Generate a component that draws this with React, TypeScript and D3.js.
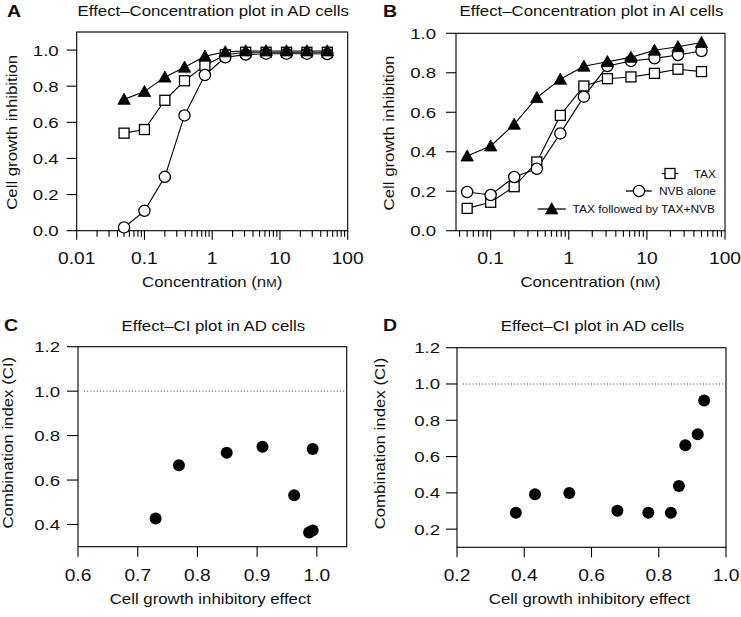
import React from "react";
import * as d3 from "d3";

const conc = [0.05, 0.1, 0.2, 0.39, 0.78, 1.56, 3.125, 6.25, 12.5, 25, 50];
const aTax = [0.54, 0.56, 0.722, 0.83, 0.915, 0.974, 0.988, 0.988, 0.988, 0.988, 0.988];
const aNvb = [0.018, 0.11, 0.298, 0.638, 0.862, 0.96, 0.975, 0.98, 0.98, 0.98, 0.978];
const aCombo = [0.727, 0.77, 0.85, 0.905, 0.966, 0.99, 0.995, 0.995, 0.995, 0.995, 0.995];
const bTax = [0.113, 0.144, 0.223, 0.348, 0.584, 0.733, 0.77, 0.779, 0.797, 0.818, 0.806];
const bNvb = [0.196, 0.181, 0.272, 0.314, 0.493, 0.679, 0.834, 0.86, 0.873, 0.89, 0.91];
const bCombo = [0.378, 0.429, 0.539, 0.674, 0.767, 0.833, 0.856, 0.878, 0.914, 0.932, 0.953];
const cEffect = [0.73, 0.769, 0.849, 0.909, 0.993, 0.962, 0.987, 0.993];
const cCI = [0.427, 0.666, 0.723, 0.75, 0.74, 0.532, 0.364, 0.373];
const dEffect = [0.375, 0.432, 0.534, 0.677, 0.769, 0.836, 0.86, 0.879, 0.916, 0.935];
const dCI = [0.29, 0.393, 0.399, 0.301, 0.29, 0.29, 0.438, 0.662, 0.723, 0.909];
const yTicksAB = [0, 0.2, 0.4, 0.6, 0.8, 1.0];
const yTicksC = [0.4, 0.6, 0.8, 1.0, 1.2];
const yTicksD = [0.2, 0.4, 0.6, 0.8, 1.0, 1.2];
const xTicksC = [0.6, 0.7, 0.8, 0.9, 1.0];
const xTicksD = [0.2, 0.4, 0.6, 0.8, 1.0];
const legendLabels = ["TAX", "NVB alone", "TAX followed by TAX+NVB"];

const FONT = "'Liberation Sans', Arial, Helvetica, sans-serif";
const SX = 1.2;

function T({ x, y, children, size = 14, anchor = "start", rot = 0, weight = "normal", sx = SX }: any) {
  const tr = `translate(${x},${y})${rot ? ` rotate(${rot})` : ""} scale(${sx},1)`;
  return (
    <text transform={tr} fontSize={size} fontFamily={FONT} fontWeight={weight} textAnchor={anchor} fill="#111">
      {children}
    </text>
  );
}

function logTicks(min: number, max: number) {
  const out: { v: number; major: boolean }[] = [];
  for (let e = -2; e <= 2; e++) {
    const d = Math.pow(10, e);
    for (let k = 1; k <= 9; k++) {
      const v = +(k * d).toPrecision(3);
      if (v >= min - 1e-9 && v <= max + 1e-9) out.push({ v, major: k === 1 });
    }
  }
  return out;
}

function Marker({ type, x, y }: any) {
  if (type === "square") return <rect x={x - 5} y={y - 5} width={10} height={10} fill="#fff" stroke="#000" strokeWidth={1.3} />;
  if (type === "circle") return <circle cx={x} cy={y} r={5.6} fill="#fff" stroke="#000" strokeWidth={1.3} />;
  const s = 6.2;
  return <path d={`M${x},${y - s}L${x + s},${y + s * 0.8}L${x - s},${y + s * 0.8}Z`} fill="#000" stroke="#000" strokeWidth={0.8} />;
}

function ConcPanel({ letter, title, x0, x1, y0, y1, xmin, ymax, series, legend, labelX, labelGap, yLabelX, showFirstLabel }: any) {
  const xs = d3.scaleLog().domain([xmin, 100]).range([x0, x1]);
  const ys = d3.scaleLinear().domain([0, ymax]).range([y1, y0]);
  const ticks = logTicks(xmin, 100);
  const line = d3.line<number>().x((_, i) => xs(conc[i])).y((v) => ys(v));
  const types = ["square", "circle", "triangle"];
  return (
    <g>
      <T x={labelX} y={17} size={17} weight="bold" sx={1.15}>{letter}</T>
      <T x={(x0 + x1) / 2 + 1} y={15.5} size={14} anchor="middle">{title}</T>
      <rect x={x0} y={y0} width={x1 - x0} height={y1 - y0} fill="none" stroke="#000" strokeWidth={1.1} />
      {yTicksAB.map((t) => (
        <g key={t}>
          <line x1={x0 - 10} x2={x0} y1={ys(t)} y2={ys(t)} stroke="#000" strokeWidth={1.1} />
          <T x={x0 - labelGap} y={ys(t) + 5.5} size={15.5} anchor="end">{t.toFixed(1)}</T>
        </g>
      ))}
      {ticks.map((t) => (
        <g key={t.v}>
          <line x1={xs(t.v)} x2={xs(t.v)} y1={y1} y2={y1 + (t.major ? 9 : 6)} stroke="#000" strokeWidth={1.1} />
          {t.major && (showFirstLabel || t.v > xmin * 1.5) && (
            <T x={xs(t.v)} y={263.5} size={16} anchor="middle">{String(t.v)}</T>
          )}
        </g>
      ))}
      <T x={(x0 + x1) / 2} y={287} size={14} anchor="middle">
        Concentration (n<tspan fontSize={10.5}>M</tspan>)
      </T>
      <T x={yLabelX} y={(y0 + y1) / 2 + 1} size={14} anchor="middle" rot={-90}>Cell growth inhibition</T>
      {series.map((s: number[], si: number) => (
        <path key={"l" + si} d={line(s) || ""} fill="none" stroke="#000" strokeWidth={1.1} />
      ))}
      {series.map((s: number[], si: number) =>
        s.map((v, i) => <Marker key={si + "-" + i} type={types[si]} x={xs(conc[i])} y={ys(v)} />)
      )}
      {legend && (
        <g>
          {[
            { x1: 661.7, x2: 678.3, mx: 670, y: 173.5, tx: 716 },
            { x1: 626, x2: 651.7, mx: 639, y: 191, tx: 716 },
            { x1: 537.7, x2: 565.7, mx: 551.7, y: 209, tx: 715 },
          ].map((l, i) => (
            <g key={i}>
              <line x1={l.x1} x2={l.x2} y1={l.y} y2={l.y} stroke="#000" strokeWidth={1.3} />
              <Marker type={types[i]} x={l.mx} y={l.y} />
              <T x={l.tx} y={l.y + 4} size={11.5} anchor="end" sx={1.04}>{legendLabels[i]}</T>
            </g>
          ))}
        </g>
      )}
    </g>
  );
}

function CIPanel({ letter, x0, x1, y0, y1, xdom, ydom, xt, yt, ex, ci, labelX, yLabelX, labelGap }: any) {
  const xs = d3.scaleLinear().domain(xdom).range([x0, x1]);
  const ys = d3.scaleLinear().domain(ydom).range([y1, y0]);
  return (
    <g>
      <T x={labelX} y={331} size={17} weight="bold" sx={1.15}>{letter}</T>
      <T x={(x0 + x1) / 2 + 1} y={331} size={14} anchor="middle">Effect–CI plot in AD cells</T>
      <rect x={x0} y={y0} width={x1 - x0} height={y1 - y0} fill="none" stroke="#000" strokeWidth={1.1} />
      <line x1={x0 + 6} x2={x1} y1={ys(1)} y2={ys(1)} stroke="#333" strokeWidth={1} strokeDasharray="1,2.2" />
      {yt.map((t: number) => (
        <g key={t}>
          <line x1={x0 - 11} x2={x0} y1={ys(t)} y2={ys(t)} stroke="#000" strokeWidth={1.1} />
          <T x={x0 - labelGap} y={ys(t) + 5.5} size={15.5} anchor="end">{t.toFixed(1)}</T>
        </g>
      ))}
      {xt.map((t: number) => (
        <g key={t}>
          <line x1={xs(t)} x2={xs(t)} y1={y1} y2={y1 + 10} stroke="#000" strokeWidth={1.1} />
          <T x={xs(t)} y={580.5} size={16} anchor="middle">{t.toFixed(1)}</T>
        </g>
      ))}
      <T x={(x0 + x1) / 2 - 2} y={604} size={14} anchor="middle">Cell growth inhibitory effect</T>
      <T x={yLabelX} y={(y0 + y1) / 2 - 4} size={14} anchor="middle" rot={-90}>Combination index (CI)</T>
      {ex.map((v: number, i: number) => (
        <circle key={i} cx={xs(v)} cy={ys(ci[i])} r={6} fill="#000" />
      ))}
    </g>
  );
}

export default function App() {
  return (
    <svg width={741} height={617} style={{ position: "absolute", left: 0, top: 0, background: "#fff" }}>
      <rect width={741} height={617} fill="#fff" />
      <ConcPanel letter="A" title="Effect–Concentration plot in AD cells" x0={76.7} x1={347.7} y0={32} y1={230.7}
        xmin={0.01} ymax={1.1} series={[aTax, aNvb, aCombo]} legend={false} labelX={7} labelGap={18} yLabelX={17} showFirstLabel={true} />
      <ConcPanel letter="B" title="Effect–Concentration plot in AI cells" x0={456} x1={725} y0={33.3} y1={230.7}
        xmin={0.036} ymax={1.0} series={[bTax, bNvb, bCombo]} legend={true} labelX={383} labelGap={20} yLabelX={394} showFirstLabel={false} />
      <CIPanel letter="C" x0={78} x1={346.7} y0={346.7} y1={546.7} xdom={[0.6, 1.05]} ydom={[0.3, 1.2]}
        xt={xTicksC} yt={yTicksC} ex={cEffect} ci={cCI} labelX={4} yLabelX={13} labelGap={18} />
      <CIPanel letter="D" x0={457} x1={726} y0={347.7} y1={547.3} xdom={[0.2, 1.0]} ydom={[0.1, 1.2]}
        xt={xTicksD} yt={yTicksD} ex={dEffect} ci={dCI} labelX={383} yLabelX={385} labelGap={17} />
    </svg>
  );
}
